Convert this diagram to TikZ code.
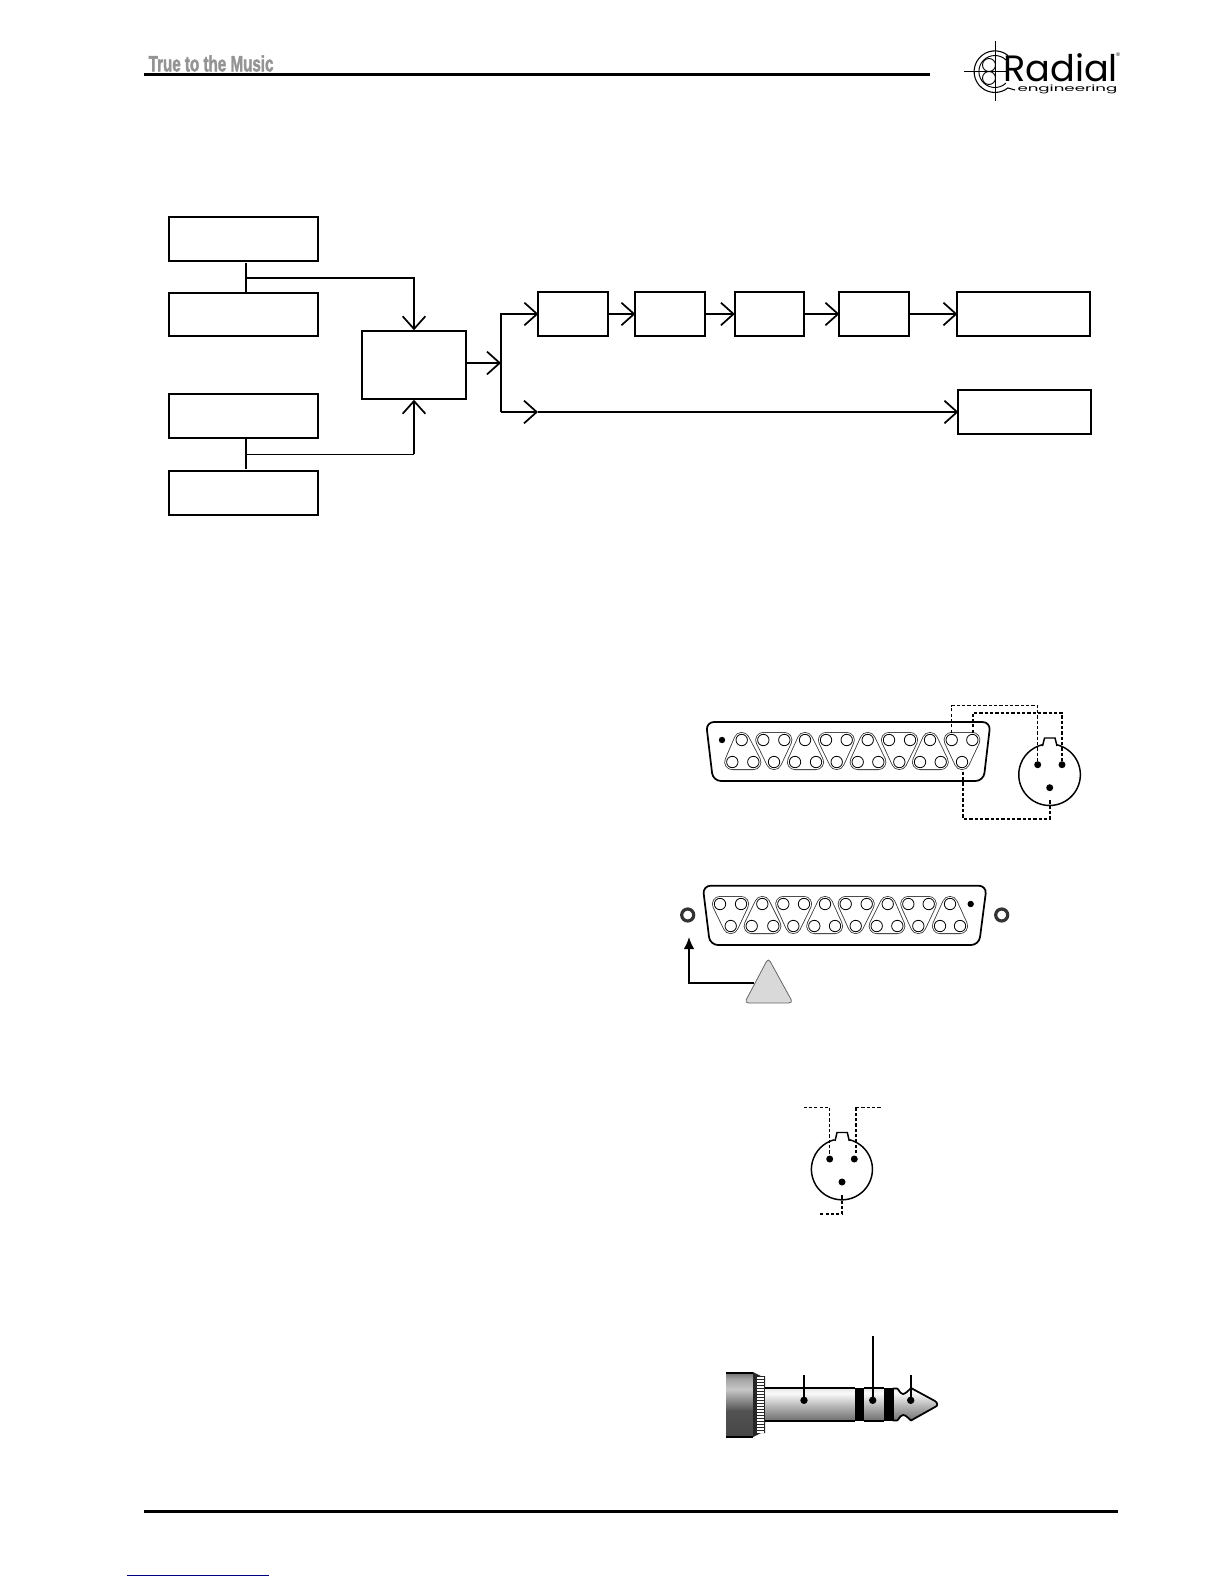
\documentclass[tikz,border=0pt]{standalone}
\usepackage{fontspec}
\setmainfont{Liberation Sans}
\newfontfamily\logofont{Poppins}
\newfontfamily\tagfont[FakeBold=2.2]{Liberation Sans}
\usetikzlibrary{arrows.meta,calc}
\pgfdeclareverticalshading{handleshade}{100bp}{color(0bp)=(black!72); color(25bp)=(black!72); color(45bp)=(black!68); color(62bp)=(black!22); color(70bp)=(black!35); color(75bp)=(black!55); color(100bp)=(black!55)}
\pgfdeclareverticalshading{shaftshade}{100bp}{color(0bp)=(black!55); color(25bp)=(black!55); color(45bp)=(black!32); color(68bp)=(black!2); color(75bp)=(black!8); color(100bp)=(black!8)}
\tikzset{
  blk/.style={draw,line width=1.5pt,rectangle,inner sep=0pt,outer sep=0pt},
  wire/.style={line width=1.5pt,line cap=butt},
  thinwire/.style={line width=.65pt},
  barb/.style={-{Straight Barb[length=9.5pt,width=17pt,line width=1.3pt]}},
  body/.style={line width=1.3pt,rounded corners=6pt},
  pin/.style={draw,line width=.6pt,fill=white},
  dot/.style={fill=black},
  triout/.style={line width=12pt,line join=round,draw=black!80},
  triin/.style={line width=10.8pt,line join=round,draw=white},
  dashA/.style={line width=.9pt,dash pattern=on 2.4pt off 1.6pt},
  dashB/.style={line width=1.5pt,dash pattern=on 2.4pt off 1.6pt},
  xlr/.style={line width=1.1pt},
  stem/.style={line width=1.4pt},
}
\newcommand{\tri}[6]{%
  \draw[triout] (#1,#2) -- (#3,#4) -- (#5,#6) -- cycle;
  \draw[triin] (#1,#2) -- (#3,#4) -- (#5,#6) -- cycle;
}
\begin{document}
\begin{tikzpicture}[x=.75pt,y=-.75pt]
\useasboundingbox (0,0) rectangle (1224,1584);
% header
\draw[line width=1.9pt] (144,74.5) -- (930,74.5);
\node[inner sep=0,anchor=west,xscale=.69,text=black!42] (tag) at (148.5,63.5) {\tagfont\fontsize{16.5}{16.5}\selectfont\bfseries True to the Music};
% logo
\draw[line width=.7pt] (995,41.5) -- (995,101.5) (964,71.5) -- (1006,71.5);
\draw[line width=.8pt] (1008,55.5) arc[start angle=-51,end angle=-309,radius=20.8];
\draw[line width=.7pt] (1006,60) arc[start angle=-46,end angle=-314,radius=16];
\draw[line width=.8pt] (1008,88) -- (1015,90);
\draw[line width=.7pt] (989,65) circle[radius=6.5] (989,78) circle[radius=6.5];
\node[inner sep=0,anchor=base west] (logoa) at (1003,81.5) {\logofont\fontsize{27.5}{27.5}\selectfont Radial};
\node[inner sep=0,anchor=base west,xscale=1.92] (logob) at (1017,91.5) {\logofont\fontsize{6.5}{6.5}\selectfont engineering};
\node[inner sep=0] (logoc) at (1118,55) {\fontsize{4}{4}\selectfont ®};
% block diagram
\node[blk,minimum width=111.7pt,minimum height=32.6pt] (b1) at (243.7,239) {};
\node[blk,minimum width=111.7pt,minimum height=32.6pt] (b2) at (243.7,314.5) {};
\node[blk,minimum width=111.7pt,minimum height=32.6pt] (b3) at (243.7,416) {};
\node[blk,minimum width=111.7pt,minimum height=32.6pt] (b4) at (243.7,493) {};
\node[blk,minimum width=78pt,minimum height=50.5pt] (c) at (414,365) {};
\node[blk,minimum width=52pt,minimum height=32.6pt] (b5) at (573,314) {};
\node[blk,minimum width=52pt,minimum height=32.6pt] (b6) at (670,314) {};
\node[blk,minimum width=52pt,minimum height=32.6pt] (b7) at (769.5,314) {};
\node[blk,minimum width=52pt,minimum height=32.6pt] (b8) at (874,314) {};
\node[blk,minimum width=99.2pt,minimum height=32.6pt] (b9) at (1023.5,314) {};
\node[blk,minimum width=99.2pt,minimum height=32.6pt] (b10) at (1024.5,412) {};
\coordinate (t1) at (246,263);
\coordinate (j1) at (246,278);
\coordinate (j2) at (246,454);
\coordinate (e2) at (246,469);
\coordinate (sp) at (501,363);
\coordinate (lo) at (501,412);
\draw[wire] (t1) -- (t1 |- b2.north);
\draw[wire,barb] (j1) -| ([yshift=.8pt]c.north);
\draw[wire] (j2 |- b3.south) -- (e2);
\draw[thinwire] (j2) -- (j2 -| c.south);
\draw[wire,barb] (j2 -| c.south) -- ([yshift=-.8pt]c.south);
\draw[wire,barb] (c.east |- sp) -- (sp);
\draw[wire,barb] (sp) |- (b5.west);
\draw[wire] (sp) -- (lo);
\draw[wire,barb] (lo) -- (538,412);
\draw[wire,barb] (538,412) -- (b10.west);
\draw[wire,barb] (b5) -- (b6);
\draw[wire,barb] (b6) -- (b7);
\draw[wire,barb] (b7) -- (b8);
\draw[wire,barb] (b8) -- (b9);
% DB25 upper
\draw[body] (706,722) -- (990.5,722) -- (983.5,781) -- (713,781) -- cycle;
\tri{741.7}{740}{732.3}{762}{753.3}{762}
\tri{763.3}{740}{784.3}{740}{774}{762}
\tri{805}{740}{795}{762}{816}{762}
\tri{826}{740}{846.7}{740}{836.7}{762}
\tri{867.7}{740}{857.7}{762}{878.3}{762}
\tri{889}{740}{910}{740}{899.3}{762}
\tri{930}{740}{920}{762}{940.7}{762}
\tri{951.7}{740}{972.3}{740}{962}{762}
\foreach \x in {741.7,763.3,784.3,805,826,846.7,867.7,889,910,930,951.7,972.3}
  \draw[pin] (\x,740) circle[radius=5.7];
\foreach \x in {732.3,753.3,774,795,816,836.7,857.7,878.3,899.3,920,940.7,962}
  \draw[pin] (\x,762) circle[radius=5.7];
\fill[dot] (722,740) circle[radius=3.2];
% XLR upper
\draw[xlr] (1042.5,746) -- (1044.5,738) -- (1055,738) -- (1057,746);
\draw[xlr] (1057,744.8) arc[start angle=-76,end angle=256,radius=30.8];
\foreach \x/\y in {1037.7/764.7,1062/764.7,1049.7/787.7}
  \fill[dot] (\x,\y) circle[radius=3.5];
\draw[dashA] (951.7,732.7) -- (951.7,705.7) -- (1037.7,705.7) -- (1037.7,764.7);
\draw[dashB] (972.7,732.7) -- (972.7,712.7) -- (1062,712.7) -- (1062,764.7);
\draw[dashB] (963.3,771.7) -- (963.3,819) -- (1050,819) -- (1050,800);
% DB25 lower
\draw[body] (702.7,885.7) -- (986.7,885.7) -- (979,945) -- (710,945) -- cycle;
\tri{720}{904}{741}{904}{730.7}{926}
\tri{762.3}{904}{751.7}{926}{773.3}{926}
\tri{783.3}{904}{804}{904}{793.3}{926}
\tri{825}{904}{814.3}{926}{835}{926}
\tri{845.7}{904}{866.7}{904}{855.7}{926}
\tri{887.7}{904}{876.7}{926}{897.3}{926}
\tri{908.3}{904}{928.7}{904}{918.3}{926}
\tri{950}{904}{940}{926}{960}{926}
\foreach \x in {720,741,762.3,783.3,804,825,845.7,866.7,887.7,908.3,928.7,950}
  \draw[pin] (\x,904) circle[radius=5.7];
\foreach \x in {730.7,751.7,773.3,793.3,814.3,835,855.7,876.7,897.3,918.3,940,960}
  \draw[pin] (\x,926) circle[radius=5.7];
\fill[dot] (970.7,904) circle[radius=3.2];
\draw[line width=2.4pt,draw=black!80] (687.7,915) circle[radius=6];
\draw[line width=2.4pt,draw=black!80] (1001.7,915) circle[radius=6];
% gray triangle and arrow
\coordinate (gt) at (754,983.3);
\coordinate (ga) at (689,937);
\draw[line width=1.3pt,-{Latex[length=9pt,width=8pt]}] (gt) -| (ga);
\draw[fill=black!15,draw=black!60,line width=.6pt,rounded corners=3pt] (768.3,958) -- (744.5,1003) -- (793,1003) -- cycle;
% XLR middle
\draw[xlr] (835,1141) -- (837,1132.5) -- (847.3,1132.5) -- (849.3,1141);
\draw[xlr] (849.3,1139.7) arc[start angle=-76,end angle=256,radius=30.5];
\foreach \x/\y in {829.7/1159,854.3/1159,842/1182}
  \fill[dot] (\x,\y) circle[radius=3.5];
\draw[dashA] (829.7,1159) -- (829.7,1107.3) -- (803.3,1107.3);
\draw[dashB] (856,1153.3) -- (856,1107.3);
\draw[dashA] (856,1107.3) -- (881.7,1107.3);
\draw[dashB] (842,1195.3) -- (842,1214) -- (820,1214);
% jack
\shade[shading=handleshade,draw=none] (726,1373) rectangle (753,1436);
\draw[line width=1.5pt] (726,1372.5) -- (753,1372.5) (726,1436.5) -- (753,1436.5);
\fill[black!85] (753,1372) -- (761,1376) -- (765,1376) -- (765,1433) -- (761,1433) -- (753,1437) -- cycle;
\foreach \y in {1378,1381,...,1432}
  \draw[white,line width=.9pt] (757,\y) -- (763.5,\y);
\shade[shading=shaftshade] (765,1389) rectangle (855,1420);
\shade[shading=shaftshade] (864,1389) rectangle (884,1420);
\fill (855,1388) rectangle (864,1421);
\fill (884,1388) rectangle (893,1421);
\shade[shading=shaftshade,draw=black,line width=1.3pt,line join=round]
  (893,1388.5) -- (897,1388.5) .. controls (899,1389) and (899,1393) .. (903,1394) .. controls (905,1394) and (908,1391) .. (911,1388)
  -- (935,1401) .. controls (938,1403) and (938,1406) .. (935,1407) -- (911,1420.5) .. controls (908,1418) and (906,1415) .. (903,1415) .. controls (899,1416) and (899,1420) .. (897,1420.5) -- (893,1420.5) -- cycle;
\draw[line width=1.4pt] (765,1388.3) -- (855,1388.3) (864,1388.3) -- (884,1388.3) (765,1420.7) -- (855,1420.7) (864,1420.7) -- (884,1420.7);
\draw[stem] (804,1375) -- (804,1400.3);
\draw[stem] (872.7,1336) -- (872.7,1400.3);
\draw[stem] (910.7,1375) -- (910.7,1400.3);
\foreach \x in {804,872.7,910.7}
  \fill[dot] (\x,1400.3) circle[radius=3.7];
% footer
\draw[line width=1.9pt] (144,1511.7) -- (1118,1511.7);
\draw[line width=.8pt,draw=blue!50!black] (127,1575.3) -- (269,1575.3);
\end{tikzpicture}
\end{document}
